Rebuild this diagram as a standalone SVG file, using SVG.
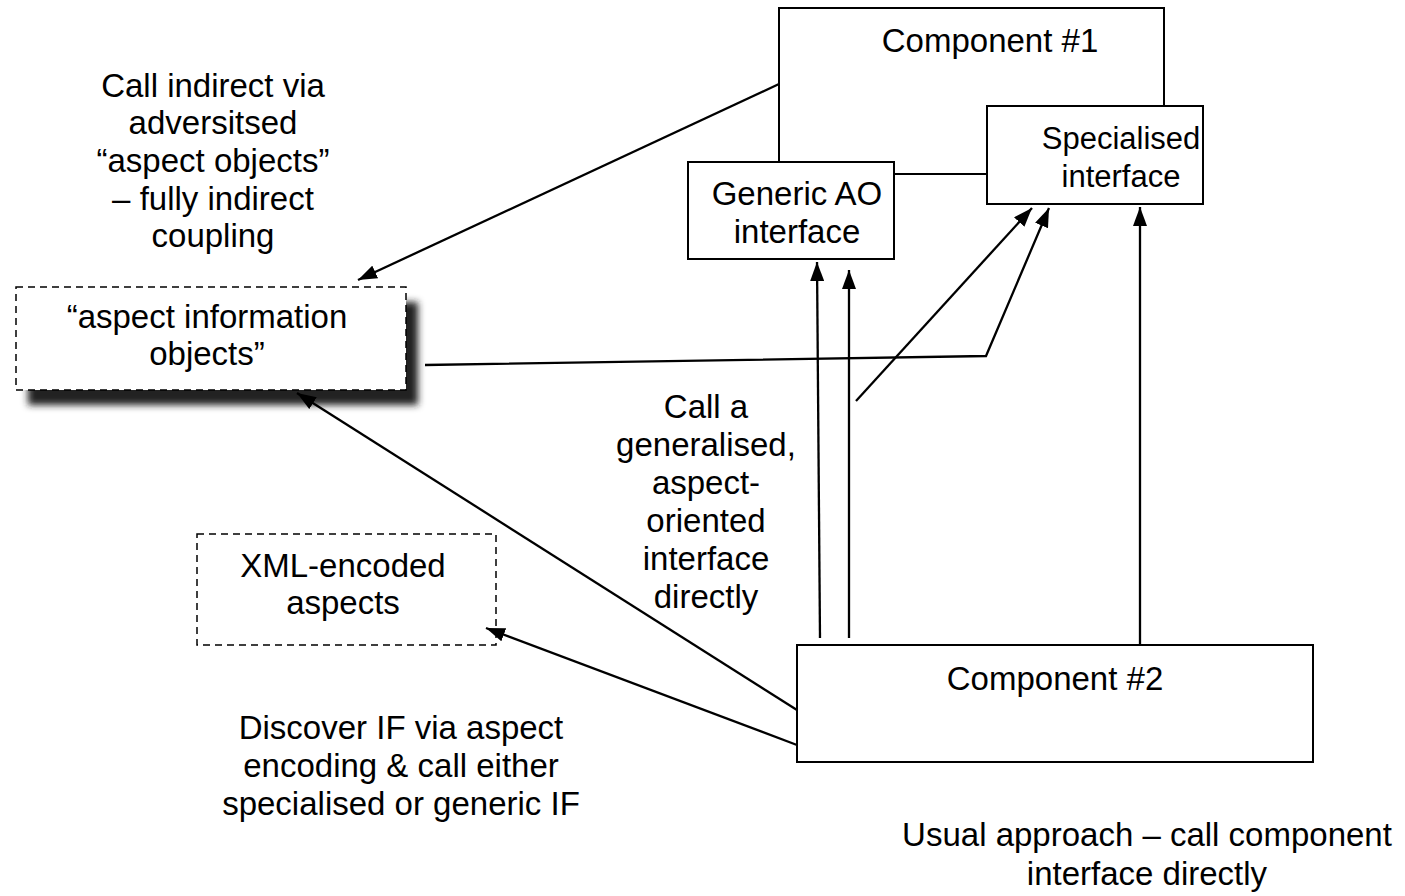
<svg xmlns="http://www.w3.org/2000/svg" width="1405" height="896" viewBox="0 0 1405 896">
<defs>
<marker id="ah" markerWidth="19" markerHeight="14" refX="19" refY="7" orient="auto" markerUnits="userSpaceOnUse">
<path d="M0,0 L19,7 L0,14 z" fill="#000"/>
</marker>
<filter id="sh" x="-10%" y="-20%" width="130%" height="150%">
<feGaussianBlur stdDeviation="3.5"/>
</filter>
</defs>
<style>
text{font-family:"Liberation Sans",Arial,sans-serif;font-size:33px;fill:#000;text-anchor:middle}
.box{fill:#fff;stroke:#000;stroke-width:2}
.dash{fill:#fff;stroke:#000;stroke-width:1.5;stroke-dasharray:7,5}
.c line,.c polyline{stroke:#000;stroke-width:2.3;fill:none}
</style>
<rect width="1405" height="896" fill="#fff"/>

<g id="component1">
<rect class="box" x="779" y="8" width="385" height="166"/>
<text x="990" y="52">Component #1</text>
</g>
<g id="generic-ao">
<rect class="box" x="688" y="162" width="206" height="97"/>
<text x="797" y="205">Generic AO</text>
<text x="797" y="243">interface</text>
</g>
<g id="specialised">
<rect class="box" x="987" y="106" width="216" height="98"/>
<text x="1121" y="149" style="font-size:31px">Specialised</text>
<text x="1121" y="187" style="font-size:31px">interface</text>
</g>
<g id="aspect-info">
<rect x="28" y="302" width="390" height="103" fill="#222" filter="url(#sh)"/>
<rect class="dash" x="16" y="287" width="390" height="103"/>
<text x="207" y="328">“aspect information</text>
<text x="207" y="365">objects”</text>
</g>
<g id="xml">
<rect class="dash" x="197" y="534" width="299" height="111"/>
<text x="343" y="577">XML-encoded</text>
<text x="343" y="614">aspects</text>
</g>
<g id="component2">
<rect class="box" x="797" y="645" width="516" height="117"/>
<text x="1055" y="690">Component #2</text>
</g>

<g id="labels">
<text x="213" y="97">Call indirect via</text>
<text x="213" y="134">adversitsed</text>
<text x="213" y="172">“aspect objects”</text>
<text x="213" y="210">– fully indirect</text>
<text x="213" y="247">coupling</text>
<text x="706" y="418">Call a</text>
<text x="706" y="456">generalised,</text>
<text x="706" y="494">aspect-</text>
<text x="706" y="532">oriented</text>
<text x="706" y="570">interface</text>
<text x="706" y="608">directly</text>
<text x="401" y="739">Discover IF via aspect</text>
<text x="401" y="777">encoding &amp; call either</text>
<text x="401" y="815">specialised or generic IF</text>
<text x="1147" y="846">Usual approach – call component</text>
<text x="1147" y="885">interface directly</text>
</g>

<g id="connectors" class="c">
<line x1="779" y1="84" x2="358" y2="280" marker-end="url(#ah)"/>
<line x1="797" y1="710" x2="297" y2="393" marker-end="url(#ah)"/>
<line x1="797" y1="745" x2="486" y2="628" marker-end="url(#ah)"/>
<polyline points="425,365 986,356 1049,208" marker-end="url(#ah)"/>
<line x1="856" y1="401" x2="1032" y2="208" marker-end="url(#ah)"/>
<line x1="820" y1="638" x2="817" y2="262" marker-end="url(#ah)"/>
<line x1="849" y1="638" x2="849" y2="270" marker-end="url(#ah)"/>
<line x1="1140" y1="645" x2="1140" y2="207" marker-end="url(#ah)"/>
</g>
</svg>
